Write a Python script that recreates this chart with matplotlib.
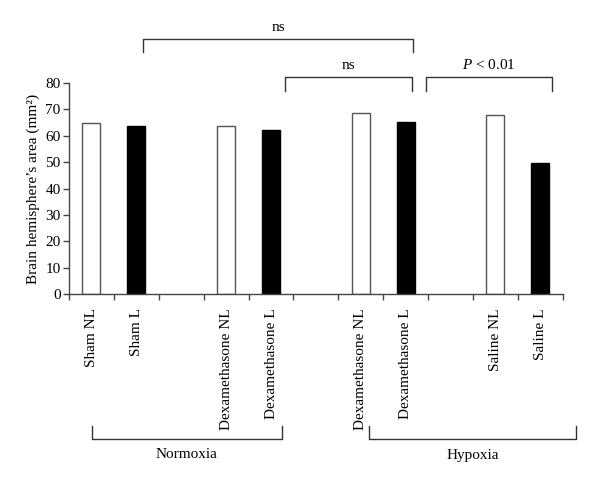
import matplotlib
matplotlib.use("Agg")
import matplotlib.pyplot as plt
import matplotlib.transforms as mtransforms

plt.rcParams['font.family'] = ['Liberation Serif', 'DejaVu Serif']
plt.rcParams['mathtext.fontset'] = 'custom'
plt.rcParams['mathtext.rm'] = 'Liberation Serif'
plt.rcParams['mathtext.it'] = 'Liberation Serif:italic'

categories = ["Sham NL", "Sham L", "", "Dexamethasone NL", "Dexamethasone L", "",
              "Dexamethasone NL", "Dexamethasone L", "", "Saline NL", "Saline L"]
values = [64.7, 63.9, None, 63.9, 62.2, None, 68.7, 65.3, None, 67.9, 49.8]
kinds = ["NL", "L", None, "NL", "L", None, "NL", "L", None, "NL", "L"]
yticks = [0, 10, 20, 30, 40, 50, 60, 70, 80]
groups = ["Normoxia", "Hypoxia"]
sig_labels = ["ns", "ns", "$P$ < 0.01"]

fig = plt.figure(figsize=(6.0, 4.83), dpi=100)
ax = fig.add_axes([0.115, 0.391, 0.823, 0.437])

for i, (v, k) in enumerate(zip(values, kinds)):
    if v is None:
        continue
    if k == "NL":
        ax.bar(i, v, width=0.4, color="white", edgecolor="#555555", linewidth=1.0)
    else:
        ax.bar(i, v, width=0.4, color="black", edgecolor="black", linewidth=1.0)

n = len(categories)
ax.set_xlim(-0.5, n - 0.5)
ax.set_ylim(0, 80)
ax.set_yticks(yticks)
ax.tick_params(axis='y', direction='out', length=4, width=1, color="#444444", labelsize=11, pad=2)
ax.set_xticks([i - 0.5 for i in range(n + 1)])
ax.set_xticklabels([])
ax.tick_params(axis='x', which='major', direction='out', length=4, width=1, color="#444444")
ax.set_xticks(list(range(n)), minor=True)
ax.set_xticklabels(categories, minor=True, rotation=90, fontsize=11, va='top')
ax.tick_params(axis='x', which='minor', length=0, pad=10)
for s in ['top', 'right']:
    ax.spines[s].set_visible(False)
for s in ['left', 'bottom']:
    ax.spines[s].set_color("#444444")
    ax.spines[s].set_linewidth(1.0)
ax.set_ylabel("Brain hemisphere\u2019s area (mm\u00b2)", fontsize=11, labelpad=4)

lc = "#333333"
# significance brackets (data coords, clip off)
def bracket(x0, x1, ytop, ybot, label):
    ax.plot([x0, x0, x1, x1], [ybot, ytop, ytop, ybot], color=lc, lw=1.0, clip_on=False)
    ax.text((x0 + x1) / 2, ytop + 2.0, label, ha='center', va='bottom', fontsize=11, clip_on=False)

bracket(1.15, 7.16, 96.6, 91.7, sig_labels[0])
bracket(4.31, 7.14, 82.2, 76.9, sig_labels[1])
bracket(7.45, 10.26, 82.2, 76.9, sig_labels[2])

# group brackets below (x data, y figure fraction)
trans = mtransforms.blended_transform_factory(ax.transData, fig.transFigure)
def group_bracket(x0, x1, label):
    y_top = 1 - 426 / 483
    y_bot = 1 - 439 / 483
    ax.plot([x0, x0, x1, x1], [y_top, y_bot, y_bot, y_top], color=lc, lw=1.0,
            transform=trans, clip_on=False)
    ax.text((x0 + x1) / 2, 1 - 455 / 483, label, ha='center', va='center',
            fontsize=11, transform=trans, clip_on=False)

group_bracket(0.01, 4.24, groups[0])
group_bracket(6.18, 10.79, groups[1])

fig.savefig("out.png", dpi=100)
